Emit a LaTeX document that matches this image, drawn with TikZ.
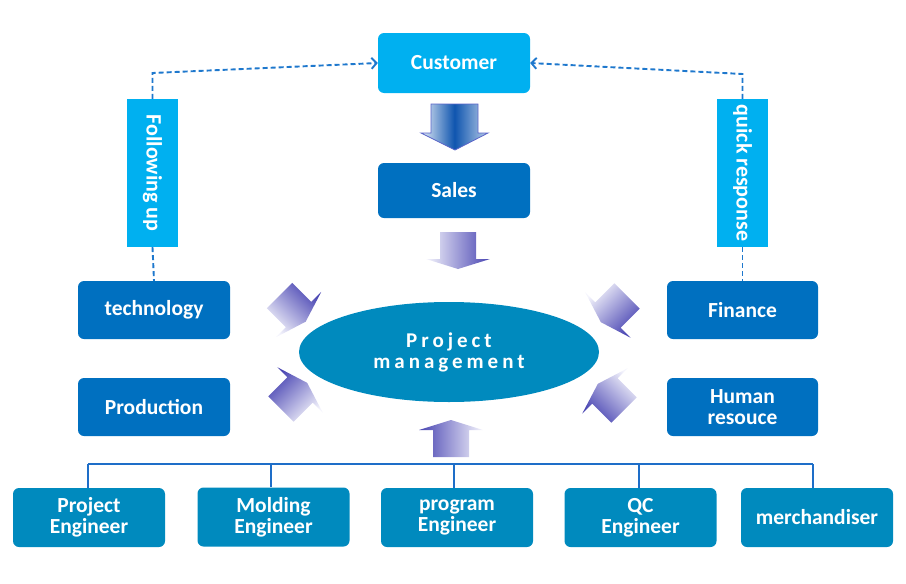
\documentclass[tikz,border=0pt]{standalone}
\usepackage{fontspec}
\setmainfont{Carlito}
\usepackage{graphicx}
\usetikzlibrary{shapes.geometric,arrows.meta}
\definecolor{cyanbox}{RGB}{0,176,240}
\definecolor{bluebox}{RGB}{0,112,192}
\definecolor{tealbox}{RGB}{0,138,190}
\definecolor{dashblue}{RGB}{30,120,205}
\definecolor{busblue}{RGB}{30,110,200}
\definecolor{arrdark}{RGB}{72,68,178}
\definecolor{arrlight}{RGB}{244,244,252}
\definecolor{bigdark}{RGB}{15,85,175}
\definecolor{bigleft}{RGB}{228,236,246}
\definecolor{bigright}{RGB}{185,205,232}
\definecolor{bigline}{RGB}{90,100,200}
\tikzset{
  box/.style={rectangle, rounded corners=6pt, minimum width=152pt, minimum height=58pt,
    text=white, font=\fontsize{21.5}{21}\selectfont\bfseries, align=center, inner sep=0pt},
  cyanbox/.style={box, fill=cyanbox},
  bluebox/.style={box, fill=bluebox},
  tealbox/.style={box, fill=tealbox},
  sidebar/.style={rectangle, fill=cyanbox, minimum width=51pt, minimum height=148pt,
    text=white, font=\fontsize{22}{21}\selectfont\bfseries, inner sep=0pt},
  dashconn/.style={draw=dashblue, line width=1.9pt, dash pattern=on 5pt off 3pt},
  bus/.style={draw=busblue, line width=1.8pt},
}
\newfontfamily\spacedfont[LetterSpace=19]{Carlito}
\newcommand\myblockarrow[2]{%
  \begin{scope}[shift={#1},rotate=#2]
    \shade[top color=arrdark,bottom color=arrlight,shading angle=#2]
      (0,-18) -- (27,-18) -- (27,-32) -- (37,0) -- (27,32) -- (27,18) -- (0,18) -- cycle;
  \end{scope}}
\begin{document}
\begin{tikzpicture}[x=1pt,y=-1pt]
\useasboundingbox (0,0) rectangle (906,584);
% main nodes
\node[cyanbox, minimum height=60pt] (cust) at (454,63) {Customer};
\node[bluebox, minimum height=55pt] (sales) at (454,190.5) {Sales};
\node[sidebar] (fu) at (152.5,173) {\rotatebox[origin=c]{-90}{Following up}};
\node[sidebar] (qr) at (742.5,173) {\rotatebox[origin=c]{-90}{quick response}};
\node[bluebox] (tech) at (154,310) {technology};
\node[bluebox] (prod) at (154,407) {Production};
\node[bluebox, minimum width=151pt] (fin) at (742.5,310) {Finance};
\node[bluebox, minimum width=151pt] (hr) at (742.5,407) {Human\\resouce};
\node[ellipse, fill=tealbox, minimum width=300pt, minimum height=100pt, inner sep=0pt,
  text=white, align=center,
  font=\spacedfont\bfseries\fontsize{21}{21}\selectfont] (pm) at (449,352)
  {Project\\management};
% bottom row
\node[tealbox, minimum height=59pt] (pe) at (89,517.5) {Project\\Engineer};
\node[tealbox, minimum height=59pt] (me) at (273.5,517) {Molding\\Engineer};
\node[tealbox, minimum height=59pt] (pg) at (457,517.5) {program\\Engineer};
\node[tealbox, minimum height=59pt] (qc) at (640.5,517.5) {QC\\Engineer};
\node[tealbox, minimum height=59pt] (mc) at (817,517.5) {merchandiser};
% bus
\coordinate (busL) at (88,464);
\coordinate (busR) at (813,464);
\draw[bus] (busL) -- (busR);
\foreach \n/\xx in {pe/88,me/271,pg/454,qc/639,mc/813}
  \draw[busblue, line width=1.5pt] (\xx,464) -- (\n.north -| \xx,0);
% dashed connectors
\coordinate (fuTop) at (152.5,73);
\coordinate (qrTop) at (742.5,74);
\draw[dashconn, -{Straight Barb[length=5pt,width=11pt]}] (fu.north) -- (fuTop) -- (cust.west);
\draw[dashconn, -{Straight Barb[length=5pt,width=11pt]}] (qr.north) -- (qrTop) -- (cust.east);
\draw[dashconn] (fu.south) -- (tech.north);
\draw[dashconn] (qr.south) -- (fin.north);
% big arrow customer -> sales
\shade[left color=bigleft, right color=bigright, middle color=bigdark, draw=bigline, line width=0.8pt]
  (431,104) -- (478,104) -- (478,133) -- (488,133) -- (455,150) -- (421,133) -- (431,133) -- cycle;
% small shaded arrows
\myblockarrow{(458,232)}{-90}
\myblockarrow{(451,457)}{90}
\myblockarrow{(279.5,295.5)}{-45}
\myblockarrow{(281,409)}{45}
\myblockarrow{(627,296)}{-135}
\myblockarrow{(624,410)}{135}
\end{tikzpicture}
\end{document}
